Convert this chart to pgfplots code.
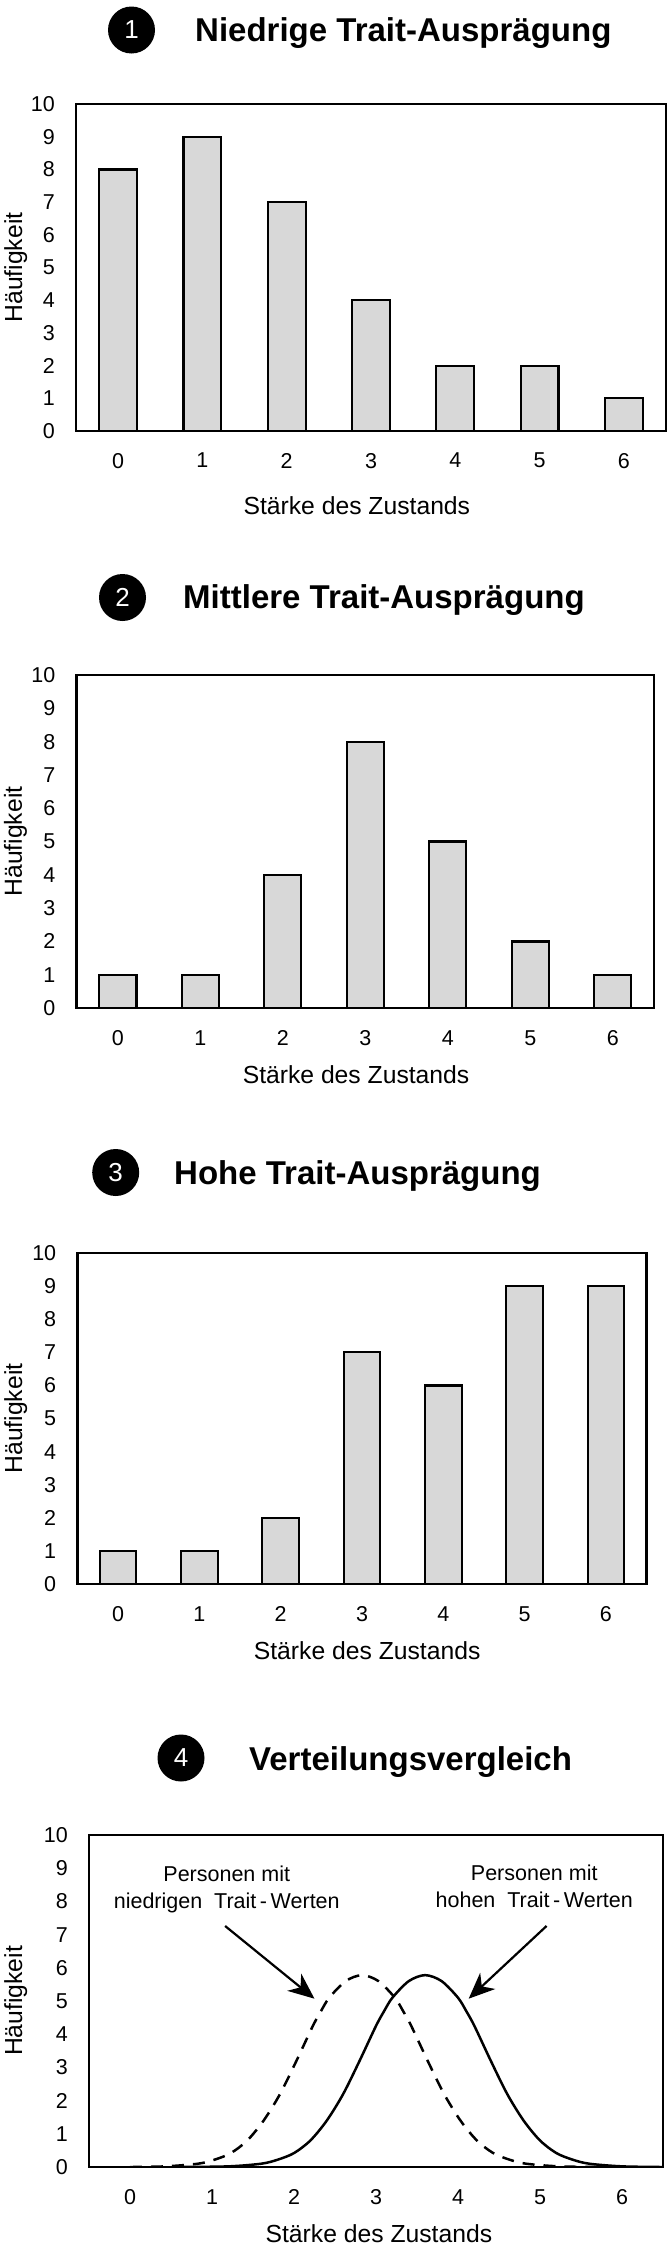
\documentclass[border=0pt]{standalone}
\usepackage{fontspec}
\setmainfont{Liberation Sans}
\usepackage{pgfplots}
\pgfplotsset{compat=1.18}
\usetikzlibrary{arrows.meta}
\definecolor{barfill}{RGB}{216,216,216}
\pgfplotsset{
  panel/.style={
    scale only axis, anchor=south west,
    ymin=0, ymax=10, xmin=-0.5, xmax=6.5,
    ytick={0,...,10}, xtick={0,...,6},
    major tick length=0pt, tick style={draw=none},
    axis line style={line width=2.4pt},
    tick label style={font=\fontsize{21.5}{21.5}\selectfont, inner sep=0pt},
    yticklabel style={anchor=east, xshift=-21pt},
    xticklabel style={anchor=north, yshift=-22pt},
    /pgf/number format/assume math mode=true,
    label style={font=\fontsize{24.7}{25}\selectfont, inner sep=0pt},
    ylabel={Häufigkeit}, xlabel={Stärke des Zustands},
  },
  bars/.style={ybar, bar width=0.45, fill=barfill, draw=black, line width=2.2pt},
}
\tikzset{numcirc/.style={circle, fill=black, minimum size=47pt, inner sep=0pt, text=white,
        font=\fontsize{26}{26}\selectfont},
  ptitle/.style={anchor=base west, inner sep=0pt, font=\bfseries\fontsize{33}{33}\selectfont}}
\begin{document}
\begin{tikzpicture}
\useasboundingbox (0pt,0pt) rectangle (667pt,-2243pt);

% ---- Panel 1
\node[numcirc] at (131.5pt,-30pt) {1};
\node[ptitle] at (195pt,-41pt) {Niedrige Trait-Ausprägung};
\begin{axis}[panel, at={(76pt,-431pt)}, width=590pt, height=327pt,
  ylabel style={at={(axis description cs:-0.0915,0.5)}, anchor=base},
  xlabel style={at={(axis description cs:0.476,0)}, anchor=base, yshift=-83pt}]
\addplot[bars] coordinates {(0,8) (1,9) (2,7) (3,4) (4,2) (5,2) (6,1)};
\end{axis}

% ---- Panel 2
\node[numcirc] at (122.5pt,-597.5pt) {2};
\node[ptitle] at (183pt,-608pt) {Mittlere Trait-Ausprägung};
\begin{axis}[panel, at={(76.6pt,-1008pt)}, width=577.4pt, height=333pt,
  ylabel style={at={(axis description cs:-0.0946,0.5)}, anchor=base},
  xlabel style={at={(axis description cs:0.484,0)}, anchor=base, yshift=-75pt}]
\addplot[bars] coordinates {(0,1) (1,1) (2,4) (3,8) (4,5) (5,2) (6,1)};
\end{axis}

% ---- Panel 3
\node[numcirc] at (115.7pt,-1172.5pt) {3};
\node[ptitle] at (174pt,-1184pt) {Hohe Trait-Ausprägung};
\begin{axis}[panel, at={(77.4pt,-1584pt)}, width=569.2pt, height=331pt,
  ylabel style={at={(axis description cs:-0.0973,0.5)}, anchor=base},
  xlabel style={at={(axis description cs:0.509,0)}, anchor=base, yshift=-75pt}]
\addplot[bars] coordinates {(0,1) (1,1) (2,2) (3,7) (4,6) (5,9) (6,9)};
\end{axis}

% ---- Panel 4
\node[numcirc] at (181pt,-1758pt) {4};
\node[ptitle] at (249pt,-1770pt) {Verteilungsvergleich};
\begin{axis}[panel, at={(89pt,-2167pt)}, width=574pt, height=332pt,
  ylabel style={at={(axis description cs:-0.1167,0.5)}, anchor=base},
  xlabel style={at={(axis description cs:0.505,0)}, anchor=base, yshift=-75pt}]
\addplot[smooth, tension=0.5, black, line width=2.5pt, dash pattern=on 12pt off 9pt]
  coordinates {(0,0) (0.43,0.02) (0.83,0.1) (1.03,0.22) (1.23,0.42) (1.43,0.8)
  (1.63,1.4) (1.83,2.2) (2.03,3.2) (2.23,4.25) (2.33,4.7) (2.43,5.1) (2.63,5.6)
  (2.83,5.78) (3.03,5.6) (3.23,5.1) (3.33,4.7) (3.43,4.25) (3.63,3.2) (3.83,2.2)
  (4.03,1.4) (4.23,0.8) (4.43,0.42) (4.63,0.22) (4.83,0.1) (5.23,0.02) (5.73,0)};
\addplot[smooth, tension=0.5, black, line width=2.5pt]
  coordinates {(0.6,0) (1.2,0.02) (1.6,0.1) (1.8,0.22) (2.0,0.42) (2.2,0.8)
  (2.4,1.4) (2.6,2.2) (2.8,3.2) (3.0,4.25) (3.1,4.7) (3.2,5.1) (3.4,5.6)
  (3.6,5.78) (3.8,5.6) (4.0,5.1) (4.1,4.7) (4.2,4.25) (4.4,3.2) (4.6,2.2)
  (4.8,1.4) (5.0,0.8) (5.2,0.42) (5.4,0.22) (5.6,0.1) (6.0,0.02) (6.5,0)};
\node[align=center, inner sep=0pt, font=\fontsize{21.5}{27}\selectfont]
  at (axis cs:1.18,8.37) {Personen mit\\niedrigen\ \ Trait\,-\,Werten};
\node[align=center, inner sep=0pt, font=\fontsize{21.5}{27}\selectfont]
  at (axis cs:4.93,8.45) {Personen mit\\hohen\ \ Trait\,-\,Werten};
\draw[line width=2.2pt, -{Stealth[length=26pt, width=22pt, inset=8pt]}]
  (axis cs:1.16,7.26) -- (axis cs:2.25,5.07);
\draw[line width=2.2pt, -{Stealth[length=26pt, width=22pt, inset=8pt]}]
  (axis cs:5.08,7.26) -- (axis cs:4.13,5.07);
\end{axis}
\end{tikzpicture}
\end{document}
